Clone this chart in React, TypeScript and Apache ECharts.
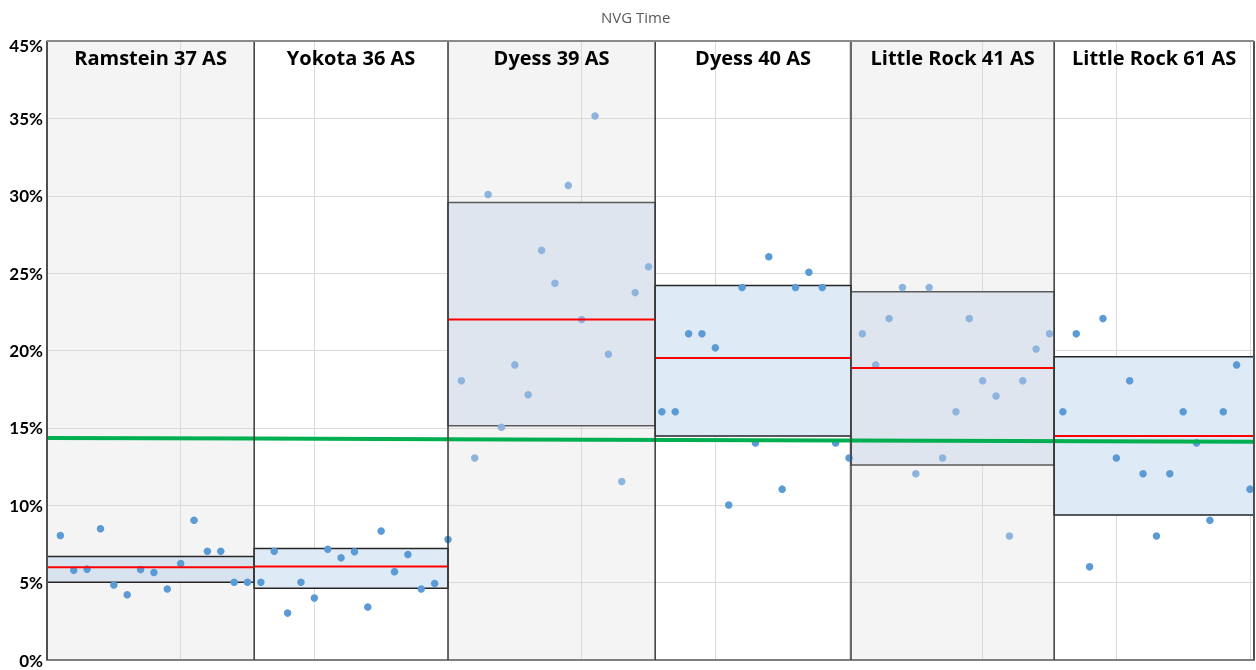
import React, { useEffect, useRef } from "react";
import * as echarts from "echarts";

const squadrons = ["Ramstein 37 AS", "Yokota 36 AS", "Dyess 39 AS", "Dyess 40 AS", "Little Rock 41 AS", "Little Rock 61 AS"];
const panelEdges = [0, 15.5, 30, 45.5, 60.15, 75.35, 90.3];

const ramstein37 = [8.05, 5.8, 5.87, 8.48, 4.85, 4.22, 5.84, 5.65, 4.59, 6.23, 9.03, 7.03, 7.03, 5.02, 5.02];
const yokota36 = [5.02, 7.03, 3.03, 5.02, 4.0, 7.16, 6.6, 6.99, 3.42, 8.33, 5.71, 6.82, 4.59, 4.94, 7.79];
const dyess39 = [18.05, 13.05, 30.08, 15.04, 19.07, 17.14, 26.47, 24.35, 30.67, 22.0, 35.15, 19.76, 11.54, 23.74, 25.41];
const dyess40 = [16.04, 16.04, 21.08, 21.08, 20.17, 10.02, 24.07, 14.03, 26.06, 11.04, 24.07, 25.06, 24.07, 14.03, 13.05];
const littleRock41 = [21.08, 19.07, 22.06, 24.07, 12.03, 24.07, 13.05, 16.04, 22.06, 18.05, 17.06, 8.01, 18.05, 20.1, 21.08];
const littleRock61 = [16.04, 21.08, 6.02, 22.06, 13.05, 18.05, 12.03, 8.01, 12.03, 16.04, 14.03, 9.03, 16.04, 19.07, 11.04];
const panelValues = [ramstein37, yokota36, dyess39, dyess40, littleRock41, littleRock61];

const means = [6.0, 6.05, 22.0, 19.52, 18.87, 14.48];
const boxLow = [5.02, 4.63, 15.13, 14.48, 12.6, 9.37];
const boxHigh = [6.69, 7.21, 29.57, 24.2, 23.79, 19.59];
const targetLine = [14.35, 14.1];

const yTicks = [0, 5, 10, 15, 20, 25, 30, 35, 40];
const yTickLabels = ["0%", "5%", "10%", "15%", "20%", "25%", "30%", "35%", "45%"];

const panelBg = ["#f4f4f4", "#ffffff", "#f4f4f4", "#ffffff", "#f4f4f4", "#ffffff"];
const pointColor = ["#5b9bd5", "#5b9bd5", "#8db4de", "#5b9bd5", "#8db4de", "#5b9bd5"];
const boxFill = ["#d8e3ef", "#deeaf6", "#dfe5ee", "#deeaf6", "#dfe5ee", "#deeaf6"];
const boxStroke = ["#262626", "#262626", "#5a5a5a", "#262626", "#5a5a5a", "#262626"];

export default function App() {
  const ref = useRef<HTMLDivElement>(null);
  useEffect(() => {
    if (!ref.current) return;
    const chart = echarts.init(ref.current, undefined, { renderer: "svg" });
    const yMax = yTicks[yTicks.length - 1];

    const scatterSeries: any[] = [];
    let offset = 0;
    panelValues.forEach((vals, i) => {
      const start = offset;
      scatterSeries.push({
        type: "scatter",
        symbolSize: 7.5,
        itemStyle: { color: pointColor[i], opacity: 1 },
        z: 4,
        data: vals.map((v, j) => [start + j + 1, v]),
      });
      offset += vals.length;
    });

    const meanSeries = means.map((m, i) => ({
      type: "line",
      symbol: "none",
      z: 5,
      lineStyle: { color: "#ff0000", width: 2 },
      data: [
        [panelEdges[i], m],
        [panelEdges[i + 1], m],
      ],
    }));

    const option: any = {
      animation: false,
      title: {
        text: "NVG Time",
        left: 596,
        top: 4,
        textStyle: { color: "#595959", fontSize: 15, fontWeight: "normal", fontFamily: "Open Sans" },
      },
      grid: { left: 47, right: 2, top: 41, bottom: 10, show: false },
      xAxis: {
        type: "value",
        min: 0,
        max: panelEdges[panelEdges.length - 1],
        interval: 10,
        axisLabel: { show: false },
        axisTick: { show: false },
        axisLine: { show: true, onZero: false, lineStyle: { color: "#7f7f7f", width: 2 } },
        splitLine: { show: true, lineStyle: { color: "#dadada", width: 1 } },
      },
      yAxis: {
        type: "value",
        min: 0,
        max: yMax,
        interval: 5,
        axisTick: { show: false },
        axisLine: { show: true, lineStyle: { color: "#404040", width: 1.5 } },
        splitLine: { show: true, lineStyle: { color: "#dadada", width: 1 } },
        axisLabel: {
          margin: 4,
          color: "#000",
          fontSize: 17,
          fontWeight: "bold",
          fontFamily: "Lato",
          formatter: (v: number) => {
            const idx = yTicks.indexOf(v);
            const t = idx >= 0 ? yTickLabels[idx] : "";
            return v === yMax ? "{top|" + t + "}" : t;
          },
          rich: {
            top: { fontSize: 17, fontWeight: "bold", fontFamily: "Lato", color: "#000", padding: [8, 0, 0, 0] },
          },
        },
      },
      series: [
        {
          type: "custom",
          z: -1,
          silent: true,
          clip: false,
          data: squadrons.map((n, i) => [panelEdges[i], panelEdges[i + 1], i]),
          encode: { x: [0, 1] },
          renderItem: (params: any, api: any) => {
            const i = api.value(2);
            const p1 = api.coord([api.value(0), yMax]);
            const p2 = api.coord([api.value(1), 0]);
            return {
              type: "rect",
              shape: { x: p1[0], y: p1[1], width: p2[0] - p1[0], height: p2[1] - p1[1] },
              style: { fill: panelBg[i] },
            };
          },
        },
        {
          type: "custom",
          z: 3,
          silent: true,
          clip: false,
          data: squadrons.map((n, i) => [panelEdges[i], panelEdges[i + 1], boxLow[i], boxHigh[i], i]),
          encode: { x: [0, 1], y: [2, 3] },
          renderItem: (params: any, api: any) => {
            const i = api.value(4);
            const p1 = api.coord([api.value(0), api.value(3)]);
            const p2 = api.coord([api.value(1), api.value(2)]);
            return {
              type: "rect",
              shape: { x: p1[0], y: p1[1], width: p2[0] - p1[0], height: p2[1] - p1[1] },
              style: { fill: boxFill[i], stroke: boxStroke[i], lineWidth: 1.5 },
            };
          },
        },
        ...scatterSeries,
        ...meanSeries,
        {
          type: "line",
          symbol: "none",
          z: 6,
          lineStyle: { color: "#00b050", width: 4 },
          data: [
            [panelEdges[0], targetLine[0]],
            [panelEdges[panelEdges.length - 1], targetLine[1]],
          ],
        },
        {
          type: "custom",
          z: 7,
          silent: true,
          clip: false,
          data: panelEdges.map((e, i) => [e, i]),
          encode: { x: 0 },
          renderItem: (params: any, api: any) => {
            const i = api.value(1);
            const p1 = api.coord([api.value(0), yMax]);
            const p2 = api.coord([api.value(0), 0]);
            const outer = i === 0 || i === panelEdges.length - 1;
            return {
              type: "line",
              shape: { x1: p1[0], y1: p1[1], x2: p2[0], y2: p2[1] },
              style: { stroke: outer ? "#505050" : "#3a3a3a", lineWidth: outer ? 2 : 1.5 },
            };
          },
        },
        {
          type: "custom",
          z: 7,
          silent: true,
          clip: false,
          data: [[panelEdges[0], panelEdges[panelEdges.length - 1]]],
          encode: { x: [0, 1] },
          renderItem: (params: any, api: any) => {
            const p1 = api.coord([api.value(0), yMax]);
            const p2 = api.coord([api.value(1), yMax]);
            return {
              type: "line",
              shape: { x1: p1[0], y1: p1[1], x2: p2[0], y2: p2[1] },
              style: { stroke: "#8a8a8a", lineWidth: 2 },
            };
          },
        },
        {
          type: "custom",
          z: 8,
          silent: true,
          clip: false,
          data: squadrons.map((n, i) => [panelEdges[i], panelEdges[i + 1], i]),
          encode: { x: [0, 1] },
          renderItem: (params: any, api: any) => {
            const i = api.value(2);
            const p = api.coord([(api.value(0) + api.value(1)) / 2, yMax]);
            return {
              type: "text",
              x: p[0],
              y: p[1] + 16,
              style: {
                text: squadrons[i],
                fill: "#000",
                fontSize: 20,
                fontWeight: "bold",
                fontFamily: "Open Sans",
                align: "center",
                verticalAlign: "middle",
              },
            };
          },
        },
      ],
    };
    chart.setOption(option);
    return () => chart.dispose();
  }, []);
  return <div ref={ref} style={{ position: "fixed", left: 0, top: 0, width: 1256, height: 670 }} />;
}
